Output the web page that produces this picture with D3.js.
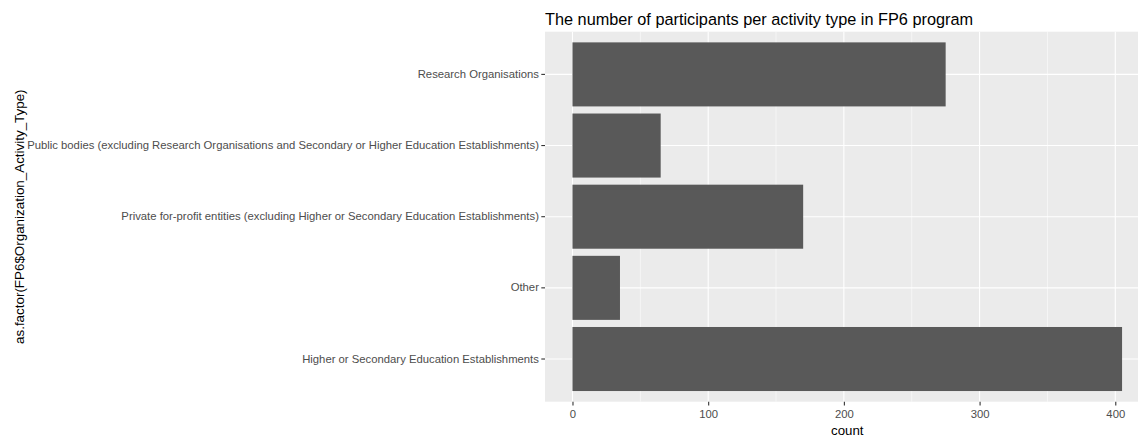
<!DOCTYPE html>
<html>
<head>
<meta charset="utf-8">
<script src="https://cdn.jsdelivr.net/npm/d3@7"></script>
<style>
  html, body { margin: 0; padding: 0; background: #ffffff; }
  svg { display: block; font-family: "Liberation Sans", Arial, sans-serif; }
</style>
</head>
<body>
<svg id="chart" width="1138" height="437"></svg>
<script>
// Activity types, listed top to bottom as they appear on the axis
const categories = [
  "Research Organisations",
  "Public bodies (excluding Research Organisations and Secondary or Higher Education Establishments)",
  "Private for-profit entities (excluding Higher or Secondary Education Establishments)",
  "Other",
  "Higher or Secondary Education Establishments"
];
// Number of participants per activity type
const counts = [275, 65, 170, 35, 405];
const xTicks = [0, 100, 200, 300, 400];
const xMinorTicks = [50, 150, 250, 350];

const title = "The number of participants per activity type in FP6 program";
const xTitle = "count";
const yTitle = "as.factor(FP6$Organization_Activity_Type)";

const svg = d3.select("#chart");

// Panel geometry
const panel = { left: 545, top: 31.7, bottom: 401.7 };
const maxCount = d3.max(counts);
const x = d3.scaleLinear()
  .domain([-0.05 * maxCount, 1.05 * maxCount])
  .range([panel.left, panel.left + (1.1 * maxCount) * 1.357]);

const y = d3.scaleBand()
  .domain(categories)
  .range([panel.top, panel.bottom])
  .paddingInner(0.1)
  .paddingOuter(0.15);

// Panel background
svg.append("rect")
  .attr("x", x.range()[0])
  .attr("y", panel.top)
  .attr("width", x.range()[1] - x.range()[0])
  .attr("height", panel.bottom - panel.top)
  .attr("fill", "#ebebeb");

// Minor vertical grid
svg.append("g").selectAll("line")
  .data(xMinorTicks).join("line")
  .attr("x1", d => x(d)).attr("x2", d => x(d))
  .attr("y1", panel.top).attr("y2", panel.bottom)
  .attr("stroke", "#ffffff").attr("stroke-width", 0.55);

// Major vertical grid
svg.append("g").selectAll("line")
  .data(xTicks).join("line")
  .attr("x1", d => x(d)).attr("x2", d => x(d))
  .attr("y1", panel.top).attr("y2", panel.bottom)
  .attr("stroke", "#ffffff").attr("stroke-width", 1.1);

// Major horizontal grid at each category
svg.append("g").selectAll("line")
  .data(categories).join("line")
  .attr("x1", x.range()[0]).attr("x2", x.range()[1])
  .attr("y1", d => y(d) + y.bandwidth() / 2)
  .attr("y2", d => y(d) + y.bandwidth() / 2)
  .attr("stroke", "#ffffff").attr("stroke-width", 1.1);

// Bars
svg.append("g").selectAll("rect")
  .data(categories.map((c, i) => ({ c, v: counts[i] }))).join("rect")
  .attr("x", x(0))
  .attr("y", d => y(d.c))
  .attr("width", d => x(d.v) - x(0))
  .attr("height", y.bandwidth())
  .attr("fill", "#595959");

// Y axis
const yAxis = svg.append("g")
  .attr("transform", `translate(${panel.left},0)`)
  .call(d3.axisLeft(y).tickSize(3.7).tickPadding(2.4));
yAxis.select(".domain").remove();
yAxis.selectAll(".tick line").attr("stroke", "#333333").attr("stroke-width", 1.1);
yAxis.selectAll(".tick text")
  .attr("fill", "#4d4d4d")
  .style("font-size", "11.3px")
  .style("font-family", "'Liberation Sans', Arial, sans-serif");

// X axis
const xAxis = svg.append("g")
  .attr("transform", `translate(0,${panel.bottom})`)
  .call(d3.axisBottom(x).tickValues(xTicks).tickSize(3.7).tickPadding(4.9));
xAxis.select(".domain").remove();
xAxis.selectAll(".tick line").attr("stroke", "#333333").attr("stroke-width", 1.1);
xAxis.selectAll(".tick text")
  .attr("fill", "#4d4d4d")
  .style("font-size", "11.3px")
  .style("font-family", "'Liberation Sans', Arial, sans-serif");

// Title
svg.append("text")
  .attr("x", panel.left)
  .attr("y", 24.5)
  .attr("fill", "#000000")
  .style("font-size", "16.3px")
  .text(title);

// Axis titles
svg.append("text")
  .attr("x", (x.range()[0] + x.range()[1]) / 2)
  .attr("y", 435)
  .attr("text-anchor", "middle")
  .attr("fill", "#000000")
  .style("font-size", "13.3px")
  .text(xTitle);

svg.append("text")
  .attr("transform", `translate(24,${(panel.top + panel.bottom) / 2}) rotate(-90)`)
  .attr("text-anchor", "middle")
  .attr("fill", "#000000")
  .style("font-size", "13.4px")
  .text(yTitle);
</script>
</body>
</html>
